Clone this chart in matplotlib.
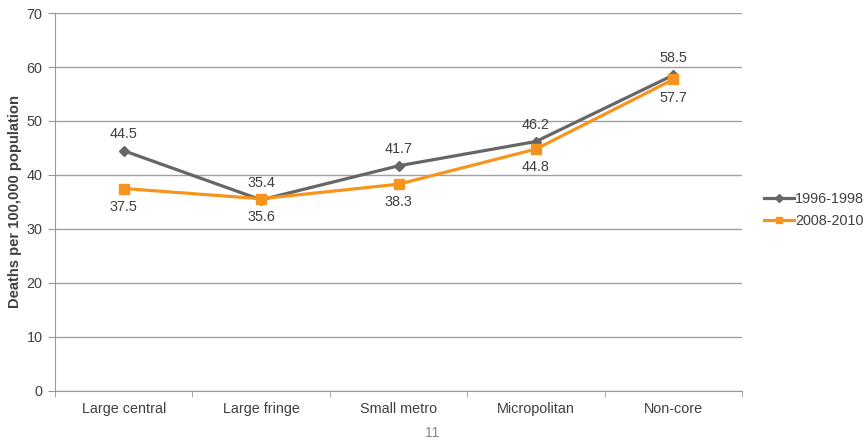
import matplotlib
matplotlib.use("Agg")
import matplotlib.pyplot as plt

categories = ["Large central", "Large fringe", "Small metro", "Micropolitan", "Non-core"]
series_1996 = [44.5, 35.4, 41.7, 46.2, 58.5]
series_2008 = [37.5, 35.6, 38.3, 44.8, 57.7]
series_names = ["1996-1998", "2008-2010"]
y_ticks = [0, 10, 20, 30, 40, 50, 60, 70]

plt.rcParams['font.family'] = ['Liberation Sans', 'DejaVu Sans']

gray = "#666666"
orange = "#F7941D"
txt = "#404040"
fs = 10.4

fig = plt.figure(figsize=(8.66, 4.42), dpi=100)
ax = fig.add_axes([55/866, 1-391/442, 687/866, 378/442])

x = list(range(len(categories)))
ax.plot(x, series_1996, color=gray, lw=2.3, marker="D", ms=5.5, label=series_names[0], zorder=3)
ax.plot(x, series_2008, color=orange, lw=2.3, marker="s", ms=7, label=series_names[1], zorder=4)

for xi, v in zip(x, series_1996):
    ax.annotate(f"{v}", (xi, v), xytext=(0, 7), textcoords="offset points",
                ha="center", va="bottom", fontsize=fs, color=txt)
for xi, v in zip(x, series_2008):
    ax.annotate(f"{v}", (xi, v), xytext=(0, -8), textcoords="offset points",
                ha="center", va="top", fontsize=fs, color=txt)

ax.set_xlim(-0.5, len(categories) - 0.5)
ax.set_ylim(0, 70)
ax.set_yticks(y_ticks)
ax.set_xticks(x)
ax.set_xticklabels(categories)
ax.set_xticks([i + 0.5 for i in range(-1, len(categories))], minor=True)
ax.tick_params(axis="x", which="major", length=0, labelsize=fs, labelcolor=txt, pad=8)
ax.tick_params(axis="x", which="minor", length=4, color="#999999", direction="out")
ax.tick_params(axis="y", length=5, color="#999999", labelsize=fs, labelcolor=txt, direction="out", pad=4)
ax.yaxis.grid(True, color="#A0A0A0", lw=1)
ax.set_axisbelow(True)
for s in ["top", "right"]:
    ax.spines[s].set_visible(False)
for s in ["left", "bottom"]:
    ax.spines[s].set_color("#999999")

ax.set_ylabel("Deaths per 100,000 population", fontsize=10.6, fontweight="bold", color=txt, labelpad=3)

leg = fig.legend(loc="center left", bbox_to_anchor=(764/866, 1-210/442), frameon=False,
                 fontsize=fs, handlelength=2.1, handletextpad=0.05, labelspacing=0.6,
                 markerscale=0.7, borderaxespad=0, borderpad=0)
for t in leg.get_texts():
    t.set_color(txt)

fig.text(432/866, 1-433/442, "11", ha="center", va="center", fontsize=10, color="#8a8a8a")

fig.savefig("out.png", dpi=100)
